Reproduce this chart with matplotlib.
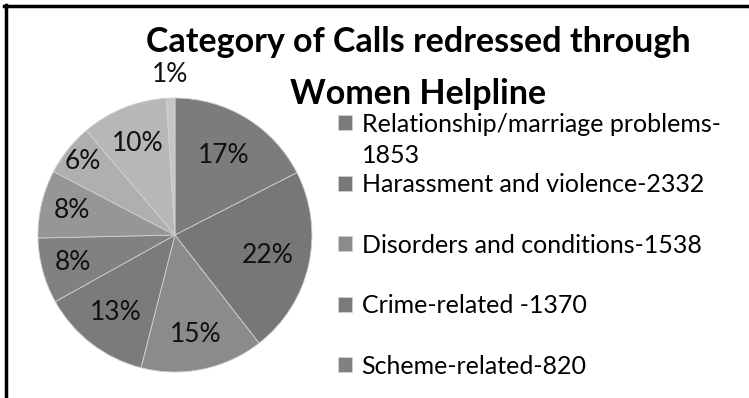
import matplotlib.pyplot as plt
import numpy as np

plt.rcParams['font.family'] = ['Lato', 'DejaVu Sans']

# call counts per category (only the first five are named in the legend)
legend_labels = ['Relationship/marriage problems-',
                 'Harassment and violence-2332',
                 'Disorders and conditions-1538',
                 'Crime-related -1370',
                 'Scheme-related-820']
first_label_tail = '1853'
calls = [1853, 2332, 1538, 1370, 820, 850, 650, 1080, 107]
colors = ['#7c7c7c', '#777777', '#8b8b8b', '#7b7b7b', '#818181',
          '#969696', '#afafaf', '#b7b7b7', '#c6c6c6']
# radial position of each percentage label (best-fit style)
label_dist = [0.68, 0.69, 0.74, 0.71, 0.77, 0.77, 0.86, 0.72, 1.17]

fig = plt.figure(figsize=(7.49, 3.98), dpi=100)
fig.patch.set_facecolor('white')

# frame lines at top and left
fig.add_artist(plt.Line2D([0.006, 1], [0.984, 0.984], color='black', lw=2.5))
fig.add_artist(plt.Line2D([0.0075, 0.0075], [0, 0.987], color='black', lw=2.5))

ax = fig.add_axes([0.0507, 0.0653, 0.3658, 0.6884])
wedges, texts, autotexts = ax.pie(calls, colors=colors, startangle=90, counterclock=False,
                                  autopct='%1.0f%%', pctdistance=0.72,
                                  wedgeprops=dict(edgecolor='#d0d0d0', linewidth=0.6),
                                  textprops=dict(fontsize=19, color='#111111'))
ax.set_xlim(-1, 1)
ax.set_ylim(-1, 1)
ax.set_aspect('equal')

for w, t, d in zip(wedges, autotexts, label_dist):
    ang = np.deg2rad((w.theta1 + w.theta2) / 2)
    t.set_position((d * np.cos(ang), d * np.sin(ang)))

fig.text(0.558, 0.895, 'Category of Calls redressed through', ha='center', va='center',
         fontsize=24.5, fontweight='bold')
fig.text(0.558, 0.765, 'Women Helpline', ha='center', va='center',
         fontsize=24.5, fontweight='bold')

leg = fig.legend(wedges[:5], legend_labels, loc='upper left', bbox_to_anchor=(0.451, 0.717),
                 frameon=False, fontsize=18, handlelength=0.55, handleheight=0.55,
                 handletextpad=0.4, labelspacing=1.5, borderaxespad=0, borderpad=0)
leg.set_zorder(5)

# wrapped part of the first legend label, hung under it
tail = plt.Annotation(first_label_tail, xy=(0, 0), xycoords=leg.get_texts()[0],
                      xytext=(0, -31), textcoords='offset pixels',
                      fontsize=18, va='bottom', ha='left')
tail.set_zorder(10)
fig.add_artist(tail)

fig.savefig('out.png', dpi=100)
